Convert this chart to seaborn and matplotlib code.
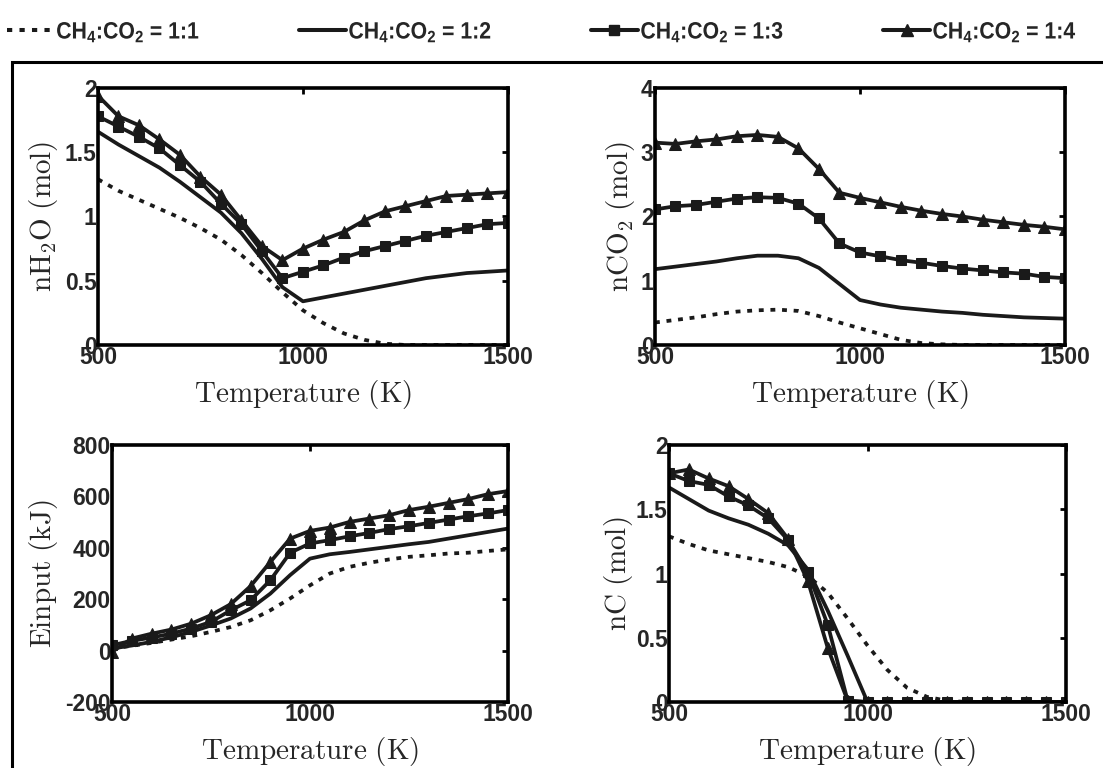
import numpy as np
import pandas as pd
import seaborn as sns
import matplotlib
matplotlib.use("Agg")
import matplotlib.pyplot as plt
from matplotlib.patches import Rectangle
from matplotlib.ticker import FuncFormatter
from matplotlib.legend_handler import HandlerLine2D
from matplotlib.transforms import Affine2D
import matplotlib.patheffects as pe

# temperature grid (K)
temps = list(range(500, 1501, 50))
ratios = ["1:1", "1:2", "1:3", "1:4"]

# nH2O (mol)
h2o_11 = [1.29, 1.20, 1.13, 1.06, 0.99, 0.91, 0.82, 0.70, 0.56, 0.41, 0.27, 0.17, 0.09, 0.04, 0.01,
          0.0, 0.0, 0.0, 0.0, 0.0, 0.0]
h2o_12 = [1.66, 1.56, 1.47, 1.38, 1.27, 1.15, 1.03, 0.87, 0.67, 0.45, 0.34, 0.37, 0.40, 0.43, 0.46,
          0.49, 0.52, 0.54, 0.56, 0.57, 0.58]
h2o_13 = [1.78, 1.70, 1.62, 1.53, 1.40, 1.27, 1.10, 0.94, 0.73, 0.52, 0.57, 0.62, 0.68, 0.73, 0.77,
          0.81, 0.85, 0.88, 0.91, 0.94, 0.95]
h2o_14 = [1.94, 1.78, 1.71, 1.60, 1.48, 1.31, 1.17, 0.97, 0.77, 0.66, 0.75, 0.82, 0.88, 0.97, 1.04,
          1.08, 1.12, 1.16, 1.17, 1.18, 1.19]

# nCO2 (mol)
co2_11 = [0.35, 0.39, 0.43, 0.48, 0.52, 0.54, 0.55, 0.53, 0.45, 0.35, 0.26, 0.17, 0.08, 0.03, 0.01,
          0.0, 0.0, 0.0, 0.0, 0.0, 0.0]
co2_12 = [1.18, 1.22, 1.26, 1.30, 1.35, 1.39, 1.39, 1.35, 1.20, 0.95, 0.70, 0.63, 0.58, 0.55, 0.52,
          0.50, 0.47, 0.45, 0.43, 0.42, 0.41]
co2_13 = [2.11, 2.16, 2.18, 2.23, 2.28, 2.30, 2.29, 2.20, 1.97, 1.58, 1.44, 1.38, 1.32, 1.28, 1.23,
          1.19, 1.16, 1.13, 1.11, 1.06, 1.04]
co2_14 = [3.15, 3.13, 3.17, 3.20, 3.25, 3.27, 3.24, 3.06, 2.74, 2.37, 2.29, 2.22, 2.15, 2.09, 2.04,
          2.00, 1.95, 1.91, 1.87, 1.84, 1.80]

# Einput (kJ)
ein_11 = [8, 19, 30, 43, 56, 73, 92, 118, 157, 203, 254, 300, 326, 342, 355, 365, 371, 378, 381, 388, 394]
ein_12 = [8, 20, 34, 52, 73, 98, 125, 164, 222, 294, 358, 375, 384, 394, 404, 414, 423, 436, 449, 462, 475]
ein_13 = [21, 38, 51, 66, 86, 112, 157, 196, 274, 381, 417, 430, 445, 458, 473, 484, 497, 510, 523, 534, 547]
ein_14 = [-5, 47, 66, 82, 105, 138, 181, 251, 345, 436, 466, 479, 501, 514, 527, 547, 560, 575, 590, 609, 621]

# nC (mol)
c_11 = [1.29, 1.23, 1.18, 1.15, 1.12, 1.09, 1.05, 0.98, 0.85, 0.65, 0.44, 0.25, 0.11, 0.04, 0.01,
        0.0, 0.0, 0.0, 0.0, 0.0, 0.0]
c_12 = [1.67, 1.58, 1.49, 1.43, 1.38, 1.31, 1.22, 1.03, 0.71, 0.36, 0.0, 0.0, 0.0, 0.0, 0.0,
        0.0, 0.0, 0.0, 0.0, 0.0, 0.0]
c_13 = [1.78, 1.72, 1.69, 1.60, 1.53, 1.43, 1.26, 1.01, 0.60, 0.01, 0.0, 0.0, 0.0, 0.0, 0.0,
        0.0, 0.0, 0.0, 0.0, 0.0, 0.0]
c_14 = [1.78, 1.81, 1.74, 1.68, 1.58, 1.47, 1.27, 0.94, 0.42, 0.01, 0.0, 0.0, 0.0, 0.0, 0.0,
        0.0, 0.0, 0.0, 0.0, 0.0, 0.0]

sns.set_style("white")
plt.rcParams["mathtext.fontset"] = "custom"
plt.rcParams["mathtext.rm"] = "Liberation Sans:bold"
plt.rcParams["mathtext.default"] = "rm"

ink = "#1a1a1a"
styles = {
    "1:1": dict(linestyle=(0, (1.3, 1.8)), marker=None),
    "1:2": dict(linestyle="-", marker=None),
    "1:3": dict(linestyle="-", marker="s", markersize=6.5),
    "1:4": dict(linestyle="-", marker="^", markersize=8.5),
}

panels = [
    ("$\\mathrm{nH_2O\\ (mol)}$", [h2o_11, h2o_12, h2o_13, h2o_14], (0, 2), [0, 0.5, 1, 1.5, 2],
     [0.0888, 0.5508, 0.3717, 0.3346], -0.132),
    ("$\\mathrm{nCO_2\\ (mol)}$", [co2_11, co2_12, co2_13, co2_14], (0, 4), [0, 1, 2, 3, 4],
     [0.5938, 0.5508, 0.3717, 0.3346], -0.085),
    ("$\\mathrm{Einput\\ (kJ)}$", [ein_11, ein_12, ein_13, ein_14], (-200, 800), [-200, 0, 200, 400, 600, 800],
     [0.1015, 0.0859, 0.3590, 0.3346], -0.172),
    ("$\\mathrm{nC\\ (mol)}$", [c_11, c_12, c_13, c_14], (0, 2), [0, 0.5, 1, 1.5, 2],
     [0.6065, 0.0859, 0.3600, 0.3346], -0.126),
]


class Narrow(pe.AbstractPathEffect):
    # squeeze glyphs horizontally to mimic a narrow font
    def __init__(self, sx):
        super().__init__()
        self.sx = sx

    def draw_path(self, renderer, gc, tpath, affine, rgbFace=None):
        renderer.draw_path(gc, tpath, Affine2D().scale(self.sx, 1.0) + affine, rgbFace)


class EndMarker(HandlerLine2D):
    def get_xdata(self, legend, xdescent, ydescent, width, height, fontsize):
        xdata = np.array([-xdescent, -xdescent + width])
        return xdata, np.array([-xdescent + width * 0.8])


fig = plt.figure(figsize=(11.03, 7.68), dpi=100)
fmt = FuncFormatter(lambda v, p: "%g" % v)

for ylab, series, ylim, yticks, pos, ylx in panels:
    ax = fig.add_axes(pos)
    for r, vals in zip(ratios, series):
        df = pd.DataFrame({"T": temps, "v": vals})
        sns.lineplot(data=df, x="T", y="v", ax=ax, color=ink, linewidth=2.7,
                     markeredgecolor=ink, markerfacecolor=ink, label=None, **styles[r])
    ax.set_xlim(500, 1500)
    ax.set_ylim(*ylim)
    ax.set_xticks([500, 1000, 1500])
    ax.set_yticks(yticks)
    ax.xaxis.set_major_formatter(fmt)
    ax.yaxis.set_major_formatter(fmt)
    ax.tick_params(direction="in", length=4, width=2, top=True, right=True, pad=1,
                   labelsize=16.5, color="k")
    for lab in ax.get_xticklabels() + ax.get_yticklabels():
        lab.set_fontweight("bold")
        lab.set_family("Liberation Sans")
    for sp in ax.spines.values():
        sp.set_linewidth(2.6)
        sp.set_color("k")
    ax.set_xlabel("$\\mathrm{Temperature\\ (K)}$", fontsize=21, math_fontfamily="cm")
    ax.set_ylabel(ylab, fontsize=21, math_fontfamily="cm")
    ax.yaxis.label.set_verticalalignment("center")
    ax.xaxis.set_label_coords(0.5, -0.13)
    ax.yaxis.set_label_coords(ylx, 0.5)
    if ax.get_legend():
        ax.get_legend().remove()

handles = [plt.Line2D([], [], color=ink, linewidth=2.9, markeredgecolor=ink, markerfacecolor=ink,
                      **styles[r]) for r in ratios]
labels = ["CH$_4$:CO$_2$ = " + r for r in ratios]
leg = fig.legend(handles, labels, loc="center left", bbox_to_anchor=(0.006, 1 - 32 / 768),
                 ncol=4, frameon=False, handlelength=2.0, handletextpad=0.1, columnspacing=3.5,
                 borderaxespad=0.0, borderpad=0.0,
                 handler_map={h: EndMarker() for h in handles},
                 prop={"family": "Liberation Sans", "weight": "bold", "size": 17})
for t in leg.get_texts():
    t.set_path_effects([Narrow(0.9)])

fig.add_artist(Rectangle((0.011, -0.02), 1.0, 1 - 62 / 768 + 0.02, transform=fig.transFigure,
                         fill=False, linewidth=2.2, edgecolor="k"))

fig.savefig("out.png", dpi=100)
